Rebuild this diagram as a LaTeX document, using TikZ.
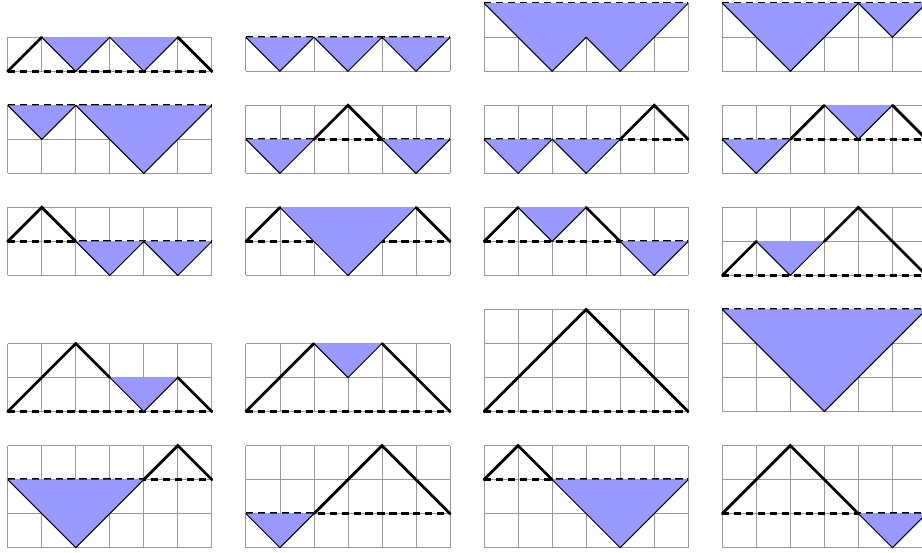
\documentclass[tikz,border=0pt]{standalone}
\tikzset{
  gridline/.style={draw=gray!80, line width=0.65pt},
  baseline/.style={draw=black, line width=2.1pt, dash pattern=on 6pt off 4pt},
  pool/.style={fill=blue!40, draw=none},
  rim/.style={draw=black, line width=0.85pt, line join=miter},
  walk/.style={draw=black, line width=2.3pt, line cap=round, line join=miter}
}
% #1 x shift, #2 y shift, #3 min, #4 max
\newcommand\pathframe[4]{%
  \draw[gridline] (0,#3) grid (6,#4);
  \draw[baseline] (0,0) -- (6,0);
}
\begin{document}
\begin{tikzpicture}
\clip (-0.226,-14.155) rectangle (26.87,2.095);
\fill[white] (-0.226,-14.155) rectangle (26.87,2.095);

% ---------- Row 1 (bottom y=0) ----------
\begin{scope}[shift={(0,0)}]
  \pathframe{0}{0}{0}{1}
  \fill[pool] (1,1) -- (2,0) -- (3,1) -- (4,0) -- (5,1) -- cycle;
  \draw[rim] (1,1) -- (2,0) -- (3,1) -- (4,0) -- (5,1);
  \draw[walk] (0,0) -- (1,1);
  \draw[walk] (5,1) -- (6,0);
\end{scope}
\begin{scope}[shift={(7,1)}]
  \pathframe{7}{1}{-1}{0}
  \fill[pool] (0,0) -- (1,-1) -- (2,0) -- (3,-1) -- (4,0) -- (5,-1) -- (6,0) -- cycle;
  \draw[rim] (0,0) -- (1,-1) -- (2,0) -- (3,-1) -- (4,0) -- (5,-1) -- (6,0);
\end{scope}
\begin{scope}[shift={(14,2)}]
  \pathframe{14}{2}{-2}{0}
  \fill[pool] (0,0) -- (1,-1) -- (2,-2) -- (3,-1) -- (4,-2) -- (5,-1) -- (6,0) -- cycle;
  \draw[rim] (0,0) -- (1,-1) -- (2,-2) -- (3,-1) -- (4,-2) -- (5,-1) -- (6,0);
\end{scope}
\begin{scope}[shift={(21,2)}]
  \pathframe{21}{2}{-2}{0}
  \fill[pool] (0,0) -- (1,-1) -- (2,-2) -- (3,-1) -- (4,0) -- (5,-1) -- (6,0) -- cycle;
  \draw[rim] (0,0) -- (1,-1) -- (2,-2) -- (3,-1) -- (4,0) -- (5,-1) -- (6,0);
\end{scope}

% ---------- Row 2 (bottom y=-3) ----------
\begin{scope}[shift={(0,-1)}]
  \pathframe{0}{-1}{-2}{0}
  \fill[pool] (0,0) -- (1,-1) -- (2,0) -- (3,-1) -- (4,-2) -- (5,-1) -- (6,0) -- cycle;
  \draw[rim] (0,0) -- (1,-1) -- (2,0) -- (3,-1) -- (4,-2) -- (5,-1) -- (6,0);
\end{scope}
\begin{scope}[shift={(7,-2)}]
  \pathframe{7}{-2}{-1}{1}
  \fill[pool] (0,0) -- (1,-1) -- (2,0) -- cycle;
  \fill[pool] (4,0) -- (5,-1) -- (6,0) -- cycle;
  \draw[rim] (0,0) -- (1,-1) -- (2,0);
  \draw[rim] (4,0) -- (5,-1) -- (6,0);
  \draw[walk] (2,0) -- (3,1) -- (4,0);
\end{scope}
\begin{scope}[shift={(14,-2)}]
  \pathframe{14}{-2}{-1}{1}
  \fill[pool] (0,0) -- (1,-1) -- (2,0) -- (3,-1) -- (4,0) -- cycle;
  \draw[rim] (0,0) -- (1,-1) -- (2,0) -- (3,-1) -- (4,0);
  \draw[walk] (4,0) -- (5,1) -- (6,0);
\end{scope}
\begin{scope}[shift={(21,-2)}]
  \pathframe{21}{-2}{-1}{1}
  \fill[pool] (0,0) -- (1,-1) -- (2,0) -- cycle;
  \fill[pool] (3,1) -- (4,0) -- (5,1) -- cycle;
  \draw[rim] (0,0) -- (1,-1) -- (2,0);
  \draw[rim] (3,1) -- (4,0) -- (5,1);
  \draw[walk] (2,0) -- (3,1);
  \draw[walk] (5,1) -- (6,0);
\end{scope}

% ---------- Row 3 (bottom y=-6) ----------
\begin{scope}[shift={(0,-5)}]
  \pathframe{0}{-5}{-1}{1}
  \fill[pool] (2,0) -- (3,-1) -- (4,0) -- (5,-1) -- (6,0) -- cycle;
  \draw[rim] (2,0) -- (3,-1) -- (4,0) -- (5,-1) -- (6,0);
  \draw[walk] (0,0) -- (1,1) -- (2,0);
\end{scope}
\begin{scope}[shift={(7,-5)}]
  \pathframe{7}{-5}{-1}{1}
  \fill[pool] (1,1) -- (2,0) -- (3,-1) -- (4,0) -- (5,1) -- cycle;
  \draw[rim] (1,1) -- (2,0) -- (3,-1) -- (4,0) -- (5,1);
  \draw[walk] (0,0) -- (1,1);
  \draw[walk] (5,1) -- (6,0);
\end{scope}
\begin{scope}[shift={(14,-5)}]
  \pathframe{14}{-5}{-1}{1}
  \fill[pool] (1,1) -- (2,0) -- (3,1) -- cycle;
  \fill[pool] (4,0) -- (5,-1) -- (6,0) -- cycle;
  \draw[rim] (1,1) -- (2,0) -- (3,1);
  \draw[rim] (4,0) -- (5,-1) -- (6,0);
  \draw[walk] (0,0) -- (1,1);
  \draw[walk] (3,1) -- (4,0);
\end{scope}
\begin{scope}[shift={(21,-6)}]
  \pathframe{21}{-6}{0}{2}
  \fill[pool] (1,1) -- (2,0) -- (3,1) -- cycle;
  \draw[rim] (1,1) -- (2,0) -- (3,1);
  \draw[walk] (0,0) -- (1,1);
  \draw[walk] (3,1) -- (4,2) -- (5,1) -- (6,0);
\end{scope}

% ---------- Row 4 (bottom y=-10) ----------
\begin{scope}[shift={(0,-10)}]
  \pathframe{0}{-10}{0}{2}
  \fill[pool] (3,1) -- (4,0) -- (5,1) -- cycle;
  \draw[rim] (3,1) -- (4,0) -- (5,1);
  \draw[walk] (0,0) -- (2,2) -- (3,1);
  \draw[walk] (5,1) -- (6,0);
\end{scope}
\begin{scope}[shift={(7,-10)}]
  \pathframe{7}{-10}{0}{2}
  \fill[pool] (2,2) -- (3,1) -- (4,2) -- cycle;
  \draw[rim] (2,2) -- (3,1) -- (4,2);
  \draw[walk] (0,0) -- (2,2);
  \draw[walk] (4,2) -- (6,0);
\end{scope}
\begin{scope}[shift={(14,-10)}]
  \pathframe{14}{-10}{0}{3}
  \draw[walk] (0,0) -- (3,3) -- (6,0);
\end{scope}
\begin{scope}[shift={(21,-7)}]
  \pathframe{21}{-7}{-3}{0}
  \fill[pool] (0,0) -- (3,-3) -- (6,0) -- cycle;
  \draw[rim] (0,0) -- (3,-3) -- (6,0);
\end{scope}

% ---------- Row 5 (bottom y=-14) ----------
\begin{scope}[shift={(0,-12)}]
  \pathframe{0}{-12}{-2}{1}
  \fill[pool] (0,0) -- (1,-1) -- (2,-2) -- (3,-1) -- (4,0) -- cycle;
  \draw[rim] (0,0) -- (1,-1) -- (2,-2) -- (3,-1) -- (4,0);
  \draw[walk] (4,0) -- (5,1) -- (6,0);
\end{scope}
\begin{scope}[shift={(7,-13)}]
  \pathframe{7}{-13}{-1}{2}
  \fill[pool] (0,0) -- (1,-1) -- (2,0) -- cycle;
  \draw[rim] (0,0) -- (1,-1) -- (2,0);
  \draw[walk] (2,0) -- (4,2) -- (6,0);
\end{scope}
\begin{scope}[shift={(14,-12)}]
  \pathframe{14}{-12}{-2}{1}
  \fill[pool] (2,0) -- (3,-1) -- (4,-2) -- (5,-1) -- (6,0) -- cycle;
  \draw[rim] (2,0) -- (3,-1) -- (4,-2) -- (5,-1) -- (6,0);
  \draw[walk] (0,0) -- (1,1) -- (2,0);
\end{scope}
\begin{scope}[shift={(21,-13)}]
  \pathframe{21}{-13}{-1}{2}
  \fill[pool] (4,0) -- (5,-1) -- (6,0) -- cycle;
  \draw[rim] (4,0) -- (5,-1) -- (6,0);
  \draw[walk] (0,0) -- (2,2) -- (4,0);
\end{scope}
\end{tikzpicture}
\end{document}
